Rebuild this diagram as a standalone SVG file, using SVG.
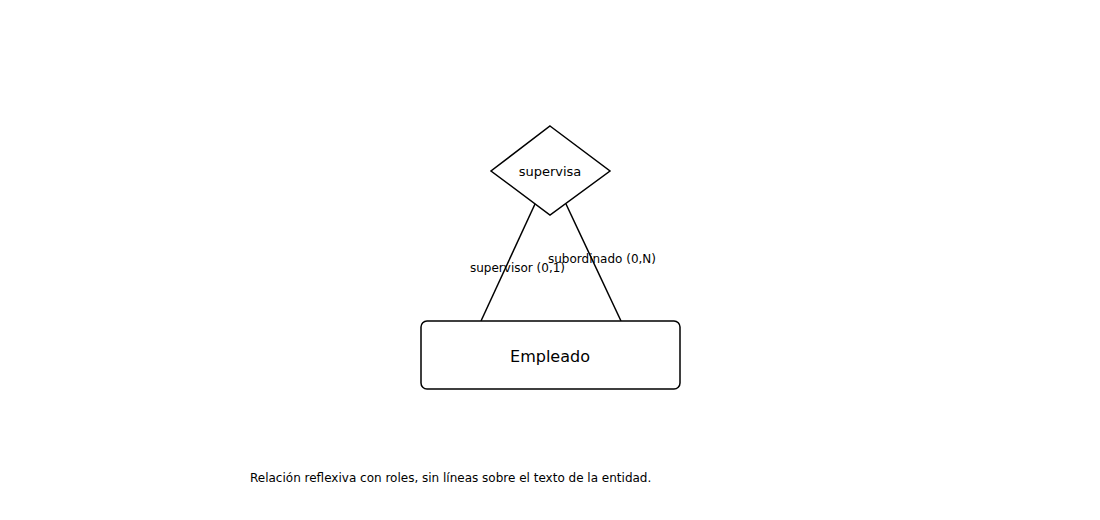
<svg xmlns="http://www.w3.org/2000/svg" width="1100" height="520" viewBox="0 0 1100 520">
<style>
text{font-family:"DejaVu Sans",sans-serif;fill:#000}
.shape{fill:#fff;stroke:#000;stroke-width:1.5}
.conn line{stroke:#000;stroke-width:1.5}
.lbl{font-size:12px}
</style>
<rect width="1100" height="520" fill="#fff"/>
<g class="conn" id="connectors">
<line x1="535" y1="204" x2="481" y2="321"/>
<line x1="566" y1="204" x2="621" y2="321"/>
</g>
<g id="supervisa">
<polygon class="shape" points="550,126 610,171 550,215 491,171"/>
<text x="550" y="176" font-size="13" text-anchor="middle">supervisa</text>
</g>
<g id="empleado">
<rect class="shape" x="421" y="321" width="259" height="68" rx="6"/>
<text x="550" y="362" font-size="16" text-anchor="middle">Empleado</text>
</g>
<g id="labels">
<text class="lbl" x="470" y="272" font-size="12.1">supervisor (0,1)</text>
<text class="lbl" x="548" y="263" font-size="12.2">subordinado (0,N)</text>
<text class="lbl" x="250" y="482" font-size="11.9">Relación reflexiva con roles, sin líneas sobre el texto de la entidad.</text>
</g>
</svg>
